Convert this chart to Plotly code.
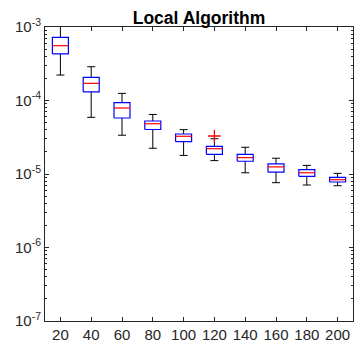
import plotly.graph_objects as go

categories = ["20", "40", "60", "80", "100", "120", "140", "160", "180", "200"]
lower_whisker = [2.22e-4, 5.9e-5, 3.37e-5, 2.24e-5, 1.79e-5, 1.52e-5, 1.04e-5, 7.62e-6, 7.08e-6, 6.93e-6]
q1 = [4.30e-4, 1.31e-4, 5.78e-5, 4.03e-5, 2.75e-5, 1.85e-5, 1.49e-5, 1.06e-5, 9.31e-6, 7.78e-6]
median = [5.57e-4, 1.71e-4, 7.9e-5, 4.83e-5, 3.26e-5, 2.21e-5, 1.67e-5, 1.25e-5, 1.04e-5, 8.36e-6]
q3 = [7.24e-4, 2.07e-4, 9.33e-5, 5.26e-5, 3.50e-5, 2.38e-5, 1.85e-5, 1.37e-5, 1.15e-5, 9.02e-6]
upper_whisker = [1.1e-3, 2.88e-4, 1.25e-4, 6.46e-5, 4.01e-5, 3.02e-5, 2.31e-5, 1.64e-5, 1.31e-5, 1.02e-5]
outlier_cat = ["120"]
outlier_val = [3.29e-5]
y_tickvals = [1e-7, 1e-6, 1e-5, 1e-4, 1e-3]
y_ticktext = ["10<sup>-7</sup>", "10<sup>-6</sup>", "10<sup>-5</sup>", "10<sup>-4</sup>", "10<sup>-3</sup>"]
y_minor_tickvals = [k * 10.0 ** e for e in range(-7, -3) for k in range(2, 10)]

half = 0.26
cap = 0.13
pos = list(range(1, len(categories) + 1))

bx, by, mx, my, wx, wy = [], [], [], [], [], []
for p, a, b, m, c, d in zip(pos, lower_whisker, q1, median, q3, upper_whisker):
    bx += [p - half, p + half, p + half, p - half, p - half, None]
    by += [b, b, c, c, b, None]
    mx += [p - half, p + half, None]
    my += [m, m, None]
    wx += [p, p, None, p, p, None, p - cap, p + cap, None, p - cap, p + cap, None]
    wy += [c, d, None, b, a, None, d, d, None, a, a, None]

ox = [pos[categories.index(c)] for c in outlier_cat]

fig = go.Figure()
fig.add_trace(go.Scatter(x=wx, y=wy, mode="lines", line=dict(color="black", width=1), hoverinfo="skip"))
fig.add_trace(go.Scatter(x=bx, y=by, mode="lines", line=dict(color="#0000ff", width=1.2), hoverinfo="skip"))
fig.add_trace(go.Scatter(x=mx, y=my, mode="lines", line=dict(color="#ff0000", width=1.2), hoverinfo="skip"))
fig.add_trace(go.Scatter(x=ox, y=outlier_val, mode="markers",
                         marker=dict(symbol="cross-thin", size=9, line=dict(color="#ff0000", width=1.3)),
                         hoverinfo="skip"))

axis_color = "#262626"
fig.update_layout(
    width=354, height=344,
    margin=dict(l=45, r=1, t=27, b=23, autoexpand=False),
    paper_bgcolor="white", plot_bgcolor="white",
    showlegend=False,
    font=dict(family="Liberation Sans, Arial, sans-serif", size=15, color=axis_color),
    title=dict(text="<b>Local Algorithm</b>", x=0.5, xref="paper", xanchor="center",
               y=1, yref="paper", yanchor="bottom", pad=dict(b=3),
               font=dict(size=17.5, color="black")),
)
fig.update_xaxes(range=[0.5, 10.5], tickmode="array", tickvals=pos, ticktext=categories,
                 automargin=False,
                 showgrid=False, zeroline=False, showline=True, linecolor=axis_color, linewidth=1,
                 mirror="ticks", ticks="inside", ticklen=4, tickcolor=axis_color)
fig.update_yaxes(type="log", range=[-7, -3], tickmode="array", tickvals=y_tickvals, ticktext=y_ticktext,
                 automargin=False,
                 showgrid=False, zeroline=False, showline=True, linecolor=axis_color, linewidth=1,
                 mirror="ticks", ticks="inside", ticklen=4, tickcolor=axis_color,
                 minor=dict(ticks="inside", ticklen=2, tickmode="array", tickvals=y_minor_tickvals,
                            tickcolor=axis_color, showgrid=False))

fig.write_html("out.html", config={"displayModeBar": False},
               post_script="document.body.style.margin='0';document.body.style.overflow='hidden';")
